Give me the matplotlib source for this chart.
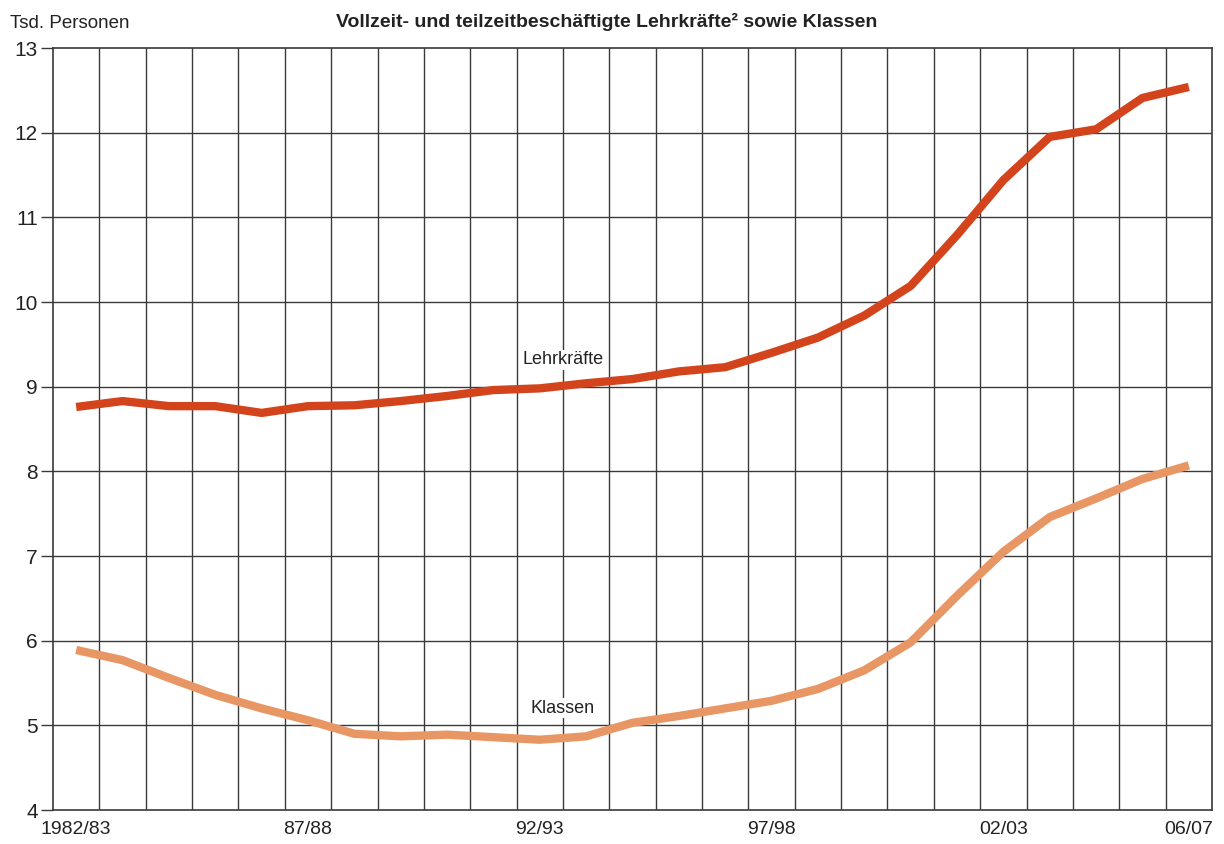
import numpy as np
import matplotlib.pyplot as plt

# school years 1982/83 .. 2006/07
years = ["1982/83", "83/84", "84/85", "85/86", "86/87", "87/88", "88/89", "89/90",
         "90/91", "91/92", "92/93", "93/94", "94/95", "95/96", "96/97", "97/98",
         "98/99", "99/00", "00/01", "01/02", "02/03", "03/04", "04/05", "05/06", "06/07"]
shown_labels = ["1982/83", "87/88", "92/93", "97/98", "02/03", "06/07"]

# Tsd. Personen
lehrkraefte = [8.76, 8.83, 8.77, 8.77, 8.69, 8.77, 8.78, 8.83, 8.89, 8.96, 8.98, 9.04,
               9.09, 9.18, 9.23, 9.40, 9.58, 9.84, 10.19, 10.79, 11.44, 11.95, 12.04,
               12.41, 12.54]
klassen = [5.89, 5.77, 5.56, 5.36, 5.20, 5.06, 4.90, 4.87, 4.89, 4.86, 4.83, 4.87,
           5.03, 5.11, 5.20, 5.29, 5.43, 5.65, 5.98, 6.53, 7.05, 7.46, 7.68, 7.91, 8.07]

plt.rcParams["font.family"] = ["Liberation Sans", "DejaVu Sans"]
txt_col = "#222222"

fig = plt.figure(figsize=(12.24, 8.44), dpi=100)
ax = fig.add_axes([53 / 1224, 34 / 844, 1159 / 1224, 762 / 844])

x = np.arange(len(years))
grid_col = "#3a3a3a"

ax.plot(x, lehrkraefte, color="#d4441c", lw=6, solid_capstyle="butt", zorder=3)
ax.plot(x, klassen, color="#e99665", lw=6, solid_capstyle="butt", zorder=3)

ax.set_xlim(-0.5, len(years) - 0.5)
ax.set_ylim(4, 13)

# grid: vertical lines between years, horizontal at every unit
for b in np.arange(0.5, len(years) - 0.5, 1):
    ax.axvline(b, color=grid_col, lw=1.0, zorder=1)
for v in range(5, 13):
    ax.axhline(v, color=grid_col, lw=1.0, zorder=1)

for s in ax.spines.values():
    s.set_color(grid_col)
    s.set_linewidth(1.2)

ax.set_yticks(range(4, 14))
ax.tick_params(axis="y", length=9, width=1.0, color=grid_col, labelsize=15, pad=2,
               labelcolor=txt_col)
ax.set_xticks([years.index(l) for l in shown_labels])
ax.set_xticklabels(shown_labels)
ax.tick_params(axis="x", length=0, labelsize=14, pad=8, labelcolor=txt_col)

box = dict(facecolor="white", edgecolor="none", pad=1)
ax.text(10.5, 9.32, "Lehrkräfte", ha="center", va="center", fontsize=13, color=txt_col,
        bbox=box, zorder=2)
ax.text(10.5, 5.2, "Klassen", ha="center", va="center", fontsize=13, color=txt_col,
        bbox=box, zorder=2)

fig.text(10 / 1224, 1 - 24 / 844, "Tsd. Personen", ha="left", va="center", fontsize=13.5,
         color=txt_col)
fig.text(607 / 1224, 1 - 22 / 844, "Vollzeit- und teilzeitbeschäftigte Lehrkräfte² sowie Klassen",
         ha="center", va="center", fontsize=14, fontweight="bold", color=txt_col)

fig.savefig("out.png", dpi=100)
